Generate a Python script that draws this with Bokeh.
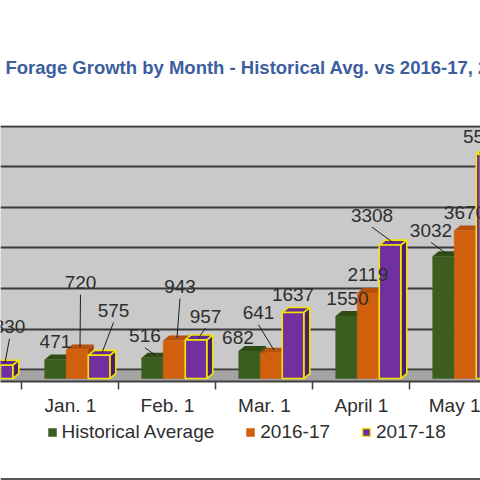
from bokeh.plotting import figure
from bokeh.layouts import column
from bokeh.models import Range1d, FixedTicker, Legend, LegendItem, BoxAnnotation, Span
from bokeh.embed import file_html
from bokeh.resources import INLINE
from bokeh.core.properties import value

# ---------------- data ----------------
months = ["Dec. 1", "Jan. 1", "Feb. 1", "Mar. 1", "April 1", "May 1"]
historical_avg = [None, 471, 516, 682, 1550, 3032]
season_2016_17 = [None, 720, 943, 641, 2119, 3670]
season_2017_18 = [330, 575, 957, 1637, 3308, 5560]
series_names = ["Historical Average", "2016-17", "2017-18"]
wall_grid = [0, 1000, 2000, 3000, 4000, 5000, 6000]
title_text = "Forage Growth by Month - Historical Avg. vs 2016-17, 2017-18"

# ---------------- styles ----------------
front_colors = ["#3b5e1f", "#d0600e", "#7030a0"]
top_colors = ["#2f4c17", "#b5510b", "#64299a"]
side_colors = ["#2a4414", "#a0480a", "#4a1f6e"]
edge_colors = [None, None, "#f2e600"]
bar_offsets = [-0.155, 0.067, 0.294]
bar_width = 0.222
FONT = "Liberation Sans"
TEXT_COLOR = "#2e2e2e"

PX_PER_CAT = 97.0      # pixels per category
PX_PER_UNIT = 0.0405   # pixels per unit of growth
DEPTH_X = 6 / PX_PER_CAT
DEPTH_Y = 5 / PX_PER_UNIT

# data-label placement (pixels, relative to the bar's front top centre; +y is up)
label_dx = [[0, 0, -7.5, -11.5, 1, -12.5],
            [0, 3.5, 6, -12.5, 0, 0],
            [7.5, 14.5, 9.5, 0, -18, -3]]
label_dy = [[18, 18, 22, 13.4, 18, 26],
            [18, 67, 54, 40, 19, 18],
            [38.6, 45, 24, 18, 30, 18]]
leader = [[False, False, True, False, False, True],
          [False, True, True, True, False, False],
          [True, True, True, False, True, False]]

series = [historical_avg, season_2016_17, season_2017_18]

W = 480
p = figure(width=W, height=418, output_backend="svg", toolbar_location=None,
           x_range=Range1d(0.2784, 5.2268), y_range=Range1d(-74, 6272),
           y_axis_location=None,
           min_border_left=0, min_border_right=0, min_border_top=125, min_border_bottom=36)
p.background_fill_color = "#c9c9c9"
p.border_fill_color = "white"
p.outline_line_color = None

# back-wall grid (shifted for the 3D perspective)
p.xgrid.visible = False
p.ygrid.ticker = FixedTicker(ticks=[222 + 1.005 * g for g in wall_grid])
p.ygrid.grid_line_color = "#3a3a3a"
p.ygrid.grid_line_width = 2

# floor
p.add_layout(BoxAnnotation(bottom=-74, top=195, left=-1, right=7, fill_color="#a4a4a4",
                           fill_alpha=1, line_color=None, level="underlay"))

# x axis
xa = p.xaxis[0]
xa.ticker = FixedTicker(ticks=list(range(len(months))),
                        minor_ticks=[i + 0.5 for i in range(-1, len(months))])
xa.major_label_overrides = {i: m for i, m in enumerate(months)}
xa.major_tick_in = 0
xa.major_tick_out = 0
xa.minor_tick_in = 0
xa.minor_tick_out = 8
xa.minor_tick_line_color = "#404040"
xa.minor_tick_line_width = 1.5
xa.axis_line_color = "#404040"
xa.axis_line_width = 2
xa.major_label_standoff = 5
xa.major_label_text_font = FONT
xa.major_label_text_font_size = "19px"
xa.major_label_text_color = TEXT_COLOR

# 3D bars
bar_geom = []
for s, vals in enumerate(series):
    idx = [i for i, v in enumerate(vals) if v is not None]
    xc = [i + bar_offsets[s] for i in idx]
    tops = [vals[i] for i in idx]
    x0 = [x - bar_width / 2 for x in xc]
    x1 = [x + bar_width / 2 for x in xc]
    side_xs = [[b, b + DEPTH_X, b + DEPTH_X, b] for b in x1]
    side_ys = [[0, DEPTH_Y, t + DEPTH_Y, t] for t in tops]
    top_xs = [[a, b, b + DEPTH_X, a + DEPTH_X] for a, b in zip(x0, x1)]
    top_ys = [[t, t, t + DEPTH_Y, t + DEPTH_Y] for t in tops]
    lc = edge_colors[s]
    lw = 1.6 if lc else 0
    p.patches(side_xs, side_ys, fill_color=side_colors[s], line_color=lc, line_width=lw)
    p.patches(top_xs, top_ys, fill_color=top_colors[s], line_color=lc, line_width=lw)
    p.vbar(x=xc, top=tops, bottom=0, width=bar_width, fill_color=front_colors[s],
           line_color=lc if lc else front_colors[s], line_width=lw if lc else 0.5)
    bar_geom.append((idx, xc))

# data labels and leader lines (on top of all bars)
for s, vals in enumerate(series):
    idx, xc = bar_geom[s]
    lx, ly, lt = [], [], []
    sx0, sy0, sx1, sy1 = [], [], [], []
    for k, i in enumerate(idx):
        v = vals[i]
        tx = xc[k] + label_dx[s][i] / PX_PER_CAT
        ty = v + label_dy[s][i] / PX_PER_UNIT
        lx.append(tx); ly.append(ty); lt.append(str(v))
        if leader[s][i]:
            sx0.append(tx); sy0.append(ty - 12 / PX_PER_UNIT)
            sx1.append(xc[k] + DEPTH_X / 2); sy1.append(v + DEPTH_Y / 2)
    if sx0:
        p.segment(x0=sx0, y0=sy0, x1=sx1, y1=sy1, line_color="#1e1e1e", line_width=1)
    p.text(x=lx, y=ly, text=lt, text_font=value(FONT), text_font_size="19px",
           text_color=TEXT_COLOR, text_align="center", text_baseline="middle")

p.title.text = title_text
p.title.align = "left"
p.title.offset = 5
p.title.text_font = FONT
p.title.text_font_style = "bold"
p.title.text_font_size = "18.5px"
p.title.text_color = "#3d5e9e"
p.title.standoff = 96

# legend strip below the chart
lg = figure(width=W, height=62, output_backend="svg", toolbar_location=None,
            x_range=Range1d(0, 1), y_range=Range1d(0, 1),
            x_axis_location=None, y_axis_location=None,
            min_border=0, outline_line_color=None)
lg.xgrid.visible = False
lg.ygrid.visible = False
swatches = []
for s in range(3):
    # swatch carriers kept outside the visible range of this strip
    swatches.append(lg.vbar(x=[-10], top=[-10], bottom=[-11], width=0.1, fill_color=front_colors[s],
                            line_color=edge_colors[s] or front_colors[s],
                            line_width=1.6 if edge_colors[s] else 0.5))
legend = Legend(items=[LegendItem(label=n, renderers=[r]) for n, r in zip(series_names, swatches)],
                orientation="horizontal", location=(46.5, 37), margin=0, padding=2,
                spacing=31, glyph_width=10, glyph_height=10, label_standoff=5,
                label_text_font=FONT, label_text_font_size="19px", label_text_color=TEXT_COLOR,
                label_height=20, border_line_color=None, background_fill_alpha=0)
lg.add_layout(legend)
lg.add_layout(Span(location=0.024, dimension="width", line_color="#555555", line_width=2))

open("out.html", "w").write(file_html(column(p, lg, spacing=0), INLINE))
